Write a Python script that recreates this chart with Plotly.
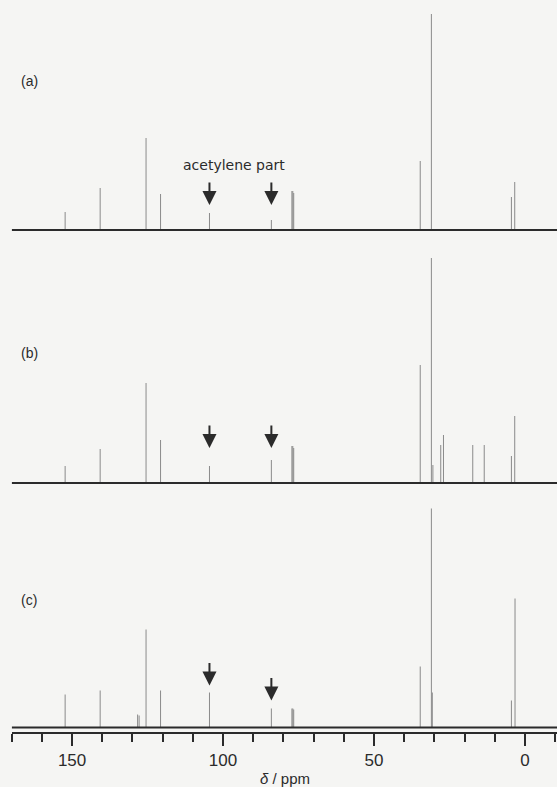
import plotly.graph_objects as go

# ---------------- data ----------------
# chemical shifts (ppm) and peak intensities (a.u.) for each spectrum
ppm_a = [152.3, 140.7, 125.5, 120.7, 104.5, 84.0, 77.2, 76.9, 76.6, 34.7, 31.0, 4.5, 3.4]
int_a = [18, 42, 92, 36, 17, 10, 39, 39, 37, 69, 216, 33, 48]

ppm_b = [152.3, 140.7, 125.5, 120.7, 104.5, 84.0, 77.2, 76.9, 76.6, 34.7, 31.0, 30.5,
         27.9, 27.0, 17.3, 13.5, 4.5, 3.4]
int_b = [17, 34, 100, 43, 17, 23, 37, 37, 35, 118, 225, 18, 38, 48, 38, 38, 27, 67]

ppm_c = [152.3, 140.7, 128.3, 127.8, 125.5, 120.7, 104.5, 84.0, 77.2, 76.9, 76.6,
         34.7, 31.0, 30.7, 4.5, 3.3]
int_c = [33, 37, 13, 12, 98, 37, 35, 19, 19, 19, 18, 61, 219, 35, 27, 129]

# arrow positions (ppm) marking the acetylene carbons, and arrow tip intensity
arrow_ppm = [104.5, 84.0]
arrow_tip_a = [25, 25]
arrow_tip_b = [35, 35]
arrow_tip_c = [42, 27]

panel_labels = ["(a)", "(b)", "(c)"]
x_ticks = [150, 100, 50, 0]
x_min, x_max = -10.6, 170

# ---------------- layout helpers ----------------
W, H = 557, 787
BG = "#f5f5f3"
PEAK = "#8a8a8a"
DARK = "#2b2b2b"


def py(px):
    return 1 - px / H


def px_x(px):
    return px / W


# panel geometry in pixels: top, bottom, baseline
panels = [(0, 240, 230), (245, 492, 483), (495, 733, 727.5)]
label_y = [81, 353, 600]
spectra = [(ppm_a, int_a, arrow_tip_a), (ppm_b, int_b, arrow_tip_b), (ppm_c, int_c, arrow_tip_c)]

fig = go.Figure()
layout = dict(
    width=W, height=H, margin=dict(l=0, r=0, t=0, b=0),
    paper_bgcolor=BG, plot_bgcolor=BG, showlegend=False,
    font=dict(family="Liberation Sans, Arial, sans-serif", color=DARK),
)

annotations = []
for i, ((top, bot, base), (pp, ii, tips)) in enumerate(zip(panels, spectra)):
    yname = "y" if i == 0 else f"y{i+1}"
    ykey = "yaxis" if i == 0 else f"yaxis{i+1}"
    layout[ykey] = dict(domain=[py(bot), py(top)], range=[-(bot - base), base - top],
                        visible=False, fixedrange=True)
    xs, ys = [], []
    for p, h in zip(pp, ii):
        xs += [p, p, None]
        ys += [0, h, None]
    fig.add_trace(go.Scatter(x=xs, y=ys, mode="lines", xaxis="x", yaxis=yname,
                             line=dict(color=PEAK, width=1), hoverinfo="skip"))
    fig.add_trace(go.Scatter(x=[x_max, x_min], y=[0, 0], mode="lines", xaxis="x", yaxis=yname,
                             line=dict(color=DARK, width=2), hoverinfo="skip"))
    for ap, tip in zip(arrow_ppm, tips):
        annotations.append(dict(x=ap, y=tip, xref="x", yref=yname, text="", showarrow=True,
                                ax=0, ay=-24, arrowhead=2, arrowsize=1.4, arrowwidth=2,
                                arrowcolor=DARK))
    annotations.append(dict(x=px_x(19), y=py(label_y[i]),
                            xref="paper", yref="paper", xanchor="left", yanchor="middle",
                            text=panel_labels[i], showarrow=False,
                            font=dict(size=14, color=DARK)))

annotations.append(dict(x=px_x(234), y=py(165), xref="paper", yref="paper",
                        text="acetylene part", showarrow=False, xanchor="center",
                        yanchor="middle", font=dict(family="DejaVu Sans", size=14, color=DARK)))
annotations.append(dict(x=px_x(285), y=py(778), xref="paper", yref="paper",
                        text="<i>δ</i> / ppm", showarrow=False, xanchor="center",
                        yanchor="middle", font=dict(size=15, color=DARK)))

layout["xaxis"] = dict(
    domain=[px_x(11.7), 1.0], range=[x_max, x_min], anchor="free", position=py(733),
    showline=True, linecolor=DARK, linewidth=2, showgrid=False, zeroline=False,
    tickmode="array", tickvals=x_ticks, ticks="outside", ticklen=12, tickwidth=1.5,
    tickcolor=DARK, tickfont=dict(size=17, color=DARK),
    minor=dict(dtick=10, tick0=0, ticks="outside", ticklen=8, tickwidth=1.5, tickcolor=DARK,
               showgrid=False),
    fixedrange=True,
)
layout["annotations"] = annotations
fig.update_layout(**layout)
fig.write_html(
    "out.html",
    config={"displayModeBar": False},
    post_script="document.body.style.margin='0';document.body.style.overflow='hidden';"
                "document.body.style.background='" + BG + "';",
)
